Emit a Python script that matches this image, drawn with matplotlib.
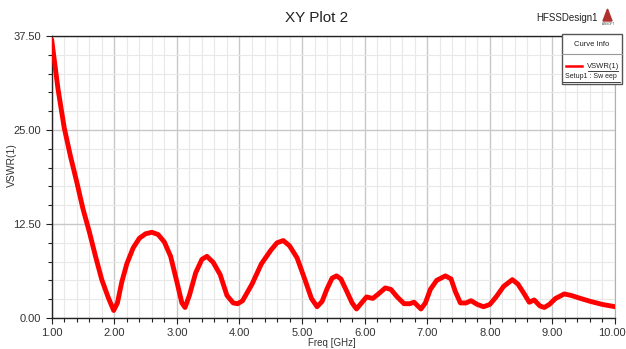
import matplotlib
matplotlib.use("Agg")
import matplotlib.pyplot as plt
from matplotlib.patches import Rectangle, Polygon
from matplotlib.lines import Line2D
from matplotlib.ticker import MultipleLocator
from matplotlib.transforms import ScaledTranslation

freq = [1.00, 1.10, 1.20, 1.30, 1.40, 1.50, 1.60, 1.70, 1.80, 1.90,
        1.99, 2.05, 2.12, 2.20, 2.30, 2.40, 2.50, 2.60, 2.70, 2.80,
        2.90, 3.00, 3.08, 3.13, 3.20, 3.30, 3.40, 3.48, 3.58, 3.69,
        3.80, 3.90, 3.97, 4.05, 4.20, 4.35, 4.50, 4.60, 4.70, 4.80,
        4.92, 5.05, 5.15, 5.24, 5.32, 5.40, 5.48, 5.55, 5.62, 5.70,
        5.80, 5.87, 5.95, 6.03, 6.13, 6.22, 6.33, 6.42, 6.52, 6.63,
        6.72, 6.79, 6.85, 6.90, 6.97, 7.05, 7.15, 7.29, 7.38, 7.45,
        7.53, 7.62, 7.70, 7.80, 7.90, 8.00, 8.10, 8.22, 8.36, 8.45,
        8.55, 8.63, 8.71, 8.80, 8.87, 8.95, 9.05, 9.19, 9.30, 9.45,
        9.61, 9.80, 10.00]
vswr = [37.0, 30.5, 25.3, 21.5, 18.1, 14.5, 11.5, 8.2, 5.1, 2.8,
        1.0, 2.0, 4.8, 7.2, 9.3, 10.6, 11.2, 11.4, 11.1, 10.1,
        8.2, 4.8, 2.0, 1.4, 3.0, 6.0, 7.8, 8.2, 7.4, 5.8,
        3.0, 2.0, 1.9, 2.3, 4.5, 7.2, 9.0, 10.0, 10.3, 9.6,
        8.0, 5.0, 2.6, 1.5, 2.2, 3.9, 5.3, 5.6, 5.2, 3.8,
        2.0, 1.2, 2.0, 2.8, 2.6, 3.2, 4.0, 3.8, 2.8, 1.9,
        1.9, 2.1, 1.6, 1.2, 2.0, 3.8, 5.0, 5.6, 5.2, 3.5,
        2.0, 2.0, 2.3, 1.8, 1.5, 1.8, 2.8, 4.2, 5.1, 4.5,
        3.2, 2.1, 2.4, 1.6, 1.4, 1.8, 2.6, 3.2, 3.0, 2.6,
        2.2, 1.8, 1.5]

xticks = [1, 2, 3, 4, 5, 6, 7, 8, 9, 10]
yticks = [0.0, 12.5, 25.0, 37.5]

plt.rcParams["font.family"] = ["Liberation Sans", "DejaVu Sans"]

W, H = 626, 349
fig = plt.figure(figsize=(W / 100, H / 100), dpi=100)
ax = fig.add_axes([51.7 / W, 1 - 318 / H, (615 - 51.7) / W, (318 - 36) / H])

ax.plot(freq, vswr, color="#ff0000", lw=3.5, solid_joinstyle="round",
        solid_capstyle="round", zorder=3)

ax.set_xlim(1, 10)
ax.set_ylim(0, 37.5)
ax.set_xticks(xticks)
ax.set_xticklabels([f"{v:.2f}" for v in xticks])
ax.set_yticks(yticks)
ax.set_yticklabels([f"{v:.2f}" for v in yticks])
ax.xaxis.set_minor_locator(MultipleLocator(0.2))
ax.yaxis.set_minor_locator(MultipleLocator(2.5))

ax.grid(which="major", color="#c8c8c8", lw=1.0)
ax.grid(which="minor", color="#e8e8e8", lw=0.8)
ax.set_axisbelow(True)

ax.tick_params(which="both", direction="out", color="#222222", labelsize=8,
               labelcolor="#333333", width=0.8)
ax.tick_params(which="major", length=4)
ax.tick_params(which="minor", length=3)
ax.tick_params(axis="x", pad=3)
# nudge the last x label so it stays inside the picture
last = ax.get_xticklabels()[-1]
last.set_transform(last.get_transform() +
                   ScaledTranslation(-3 / 100, 0, fig.dpi_scale_trans))

for side in ["left", "bottom", "top"]:
    ax.spines[side].set_color("#222222")
    ax.spines[side].set_linewidth(1.0)
ax.spines["right"].set_color("#b0b0b0")

fig.text(332 / W, 1 - 343 / H, "Freq [GHz]", fontsize=7, ha="center",
         va="center", color="#333333")
fig.text(12 / W, 1 - 165 / H, "VSWR(1)", fontsize=7.5, ha="center",
         va="center", rotation=90, color="#333333")

fig.text(317 / W, 1 - 18 / H, "XY Plot 2", fontsize=11, ha="center",
         va="center", color="#222222")
fig.text(598 / W, 1 - 18 / H, "HFSSDesign1", fontsize=7, ha="right",
         va="center", color="#222222")

# small ANSOFT logo
tri = Polygon([[603 / W, 1 - 21 / H], [612 / W, 1 - 21 / H], [607.5 / W, 1 - 9 / H]],
              closed=True, transform=fig.transFigure, color="#b03030")
fig.add_artist(tri)
fig.text(607.5 / W, 1 - 24 / H, "ANSOFT", fontsize=2.2, ha="center",
         va="center", color="#444444")

# curve info box
box = Rectangle((562 / W, 1 - 84 / H), 60 / W, 50 / H, transform=fig.transFigure,
                facecolor="white", edgecolor="#555555", lw=1.0, zorder=5)
fig.add_artist(box)
fig.add_artist(Line2D([562 / W, 622 / W], [1 - 54 / H, 1 - 54 / H],
                      transform=fig.transFigure, color="#999999", lw=0.8,
                      zorder=6))
fig.text(592 / W, 1 - 44 / H, "Curve Info", fontsize=5.5, ha="center",
         va="center", color="#222222", zorder=7)
fig.add_artist(Line2D([566 / W, 582 / W], [1 - 66 / H, 1 - 66 / H],
                      transform=fig.transFigure, color="#ff0000", lw=1.8,
                      zorder=7))
fig.text(603 / W, 1 - 66 / H, "VSWR(1)", fontsize=5.5, ha="center",
         va="center", color="#222222", zorder=7)
fig.add_artist(Line2D([588 / W, 618 / W], [1 - 71 / H, 1 - 71 / H],
                      transform=fig.transFigure, color="#222222", lw=0.6,
                      zorder=7))
fig.text(591 / W, 1 - 77 / H, "Setup1 : Sw eep", fontsize=5, ha="center",
         va="center", color="#222222", zorder=7)
fig.add_artist(Line2D([563 / W, 620 / W], [1 - 82 / H, 1 - 82 / H],
                      transform=fig.transFigure, color="#222222", lw=0.6,
                      zorder=7))

fig.savefig("out.png", dpi=100, facecolor="white")
